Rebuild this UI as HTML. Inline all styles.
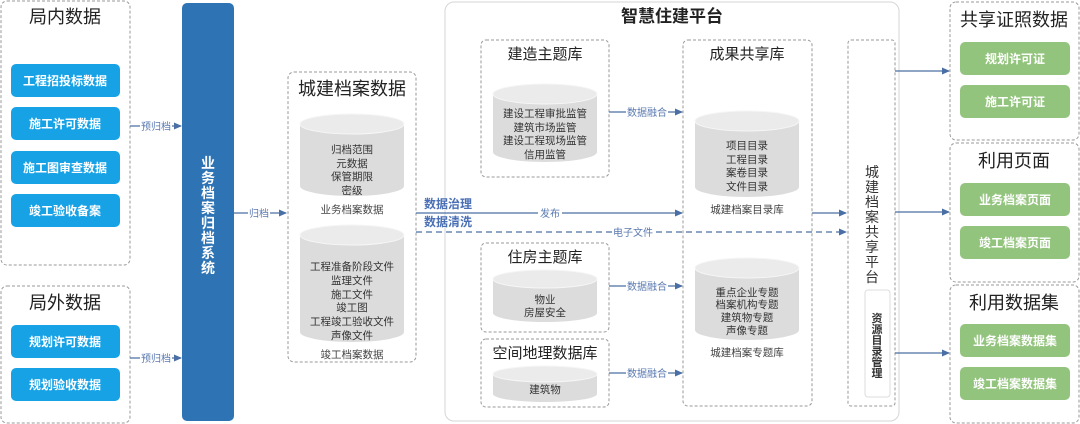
<!DOCTYPE html>
<html><head><meta charset="utf-8"><style>
html,body{margin:0;padding:0;background:#fff;}
svg{display:block;}
text{font-family:"Liberation Sans","Noto Sans CJK SC",sans-serif;}
</style></head><body>
<svg width="1080" height="424" viewBox="0 0 1080 424" xmlns="http://www.w3.org/2000/svg">
<defs>
<marker id="ar" markerWidth="8" markerHeight="8" refX="7" refY="4" orient="auto" markerUnits="userSpaceOnUse"><path d="M0,0.5 L8,4 L0,7.5 z" fill="#4a6fa5"/></marker>
<g id="cyl"></g>
</defs>
<style>
.dash{fill:#fff;stroke:#9a9a9a;stroke-width:1;stroke-dasharray:3,2;}
.ttl{font-size:18px;fill:#222;text-anchor:middle;}
.ttl2{font-size:15px;fill:#222;text-anchor:middle;}
.bt{font-size:12px;fill:#fff;text-anchor:middle;font-weight:bold;}
.ct{font-size:10.5px;fill:#333;text-anchor:middle;}
.lb{font-size:10.5px;fill:#444;text-anchor:middle;}
.al{font-size:10px;fill:#5a79b0;text-anchor:middle;}
.ln{stroke:#4a6fa5;stroke-width:1.2;fill:none;}
.cb{fill:#dcdcdc;}
.ctop{fill:#ebebeb;stroke:#f6f6f6;stroke-width:1;}
</style>

<!-- 局内数据 -->
<rect x="1" y="1" width="129" height="264" rx="6" class="dash"/>
<text x="65" y="23" class="ttl">局内数据</text>
<rect x="11" y="64" width="109" height="33" rx="5" fill="#17a2e6"/><text x="65" y="85" class="bt">工程招投标数据</text>
<rect x="11" y="107" width="109" height="33" rx="5" fill="#17a2e6"/><text x="65" y="128" class="bt">施工许可数据</text>
<rect x="11" y="151" width="109" height="33" rx="5" fill="#17a2e6"/><text x="65" y="172" class="bt">施工图审查数据</text>
<rect x="11" y="194" width="109" height="33" rx="5" fill="#17a2e6"/><text x="65" y="215" class="bt">竣工验收备案</text>

<!-- 局外数据 -->
<rect x="1" y="286" width="129" height="137" rx="6" class="dash"/>
<text x="65" y="309" class="ttl">局外数据</text>
<rect x="11" y="325" width="109" height="33" rx="5" fill="#17a2e6"/><text x="65" y="346" class="bt">规划许可数据</text>
<rect x="11" y="368" width="109" height="33" rx="5" fill="#17a2e6"/><text x="65" y="389" class="bt">规划验收数据</text>

<!-- arrows 预归档 -->
<line x1="130" y1="126" x2="181" y2="126" class="ln" marker-end="url(#ar)"/>
<rect x="140" y="120" width="32" height="12" fill="#fff"/><text x="156" y="130" class="al">预归档</text>
<line x1="130" y1="358" x2="181" y2="358" class="ln" marker-end="url(#ar)"/>
<rect x="140" y="352" width="32" height="12" fill="#fff"/><text x="156" y="362" class="al">预归档</text>

<!-- blue bar -->
<rect x="182" y="3" width="52" height="418" rx="5" fill="#2e74b5"/>
<g font-size="14" font-weight="bold" fill="#fff" text-anchor="middle">
<text x="208" y="168">业</text><text x="208" y="183">务</text><text x="208" y="198">档</text><text x="208" y="213">案</text><text x="208" y="228">归</text><text x="208" y="243">档</text><text x="208" y="258">系</text><text x="208" y="273">统</text>
</g>

<line x1="234" y1="213" x2="286" y2="213" class="ln" marker-end="url(#ar)"/>
<rect x="248" y="207" width="22" height="12" fill="#fff"/><text x="259" y="217" class="al">归档</text>

<!-- 城建档案数据 -->
<rect x="288" y="72" width="128" height="290" rx="6" class="dash"/>
<text x="352" y="95" class="ttl">城建档案数据</text>
<path d="M300,124 L300,186 A52,10 0 0 0 404,186 L404,124 z" class="cb"/>
<ellipse cx="352" cy="124" rx="52" ry="10" class="ctop"/>
<text x="352" y="153" class="ct">归档范围</text><text x="352" y="167" class="ct">元数据</text><text x="352" y="180" class="ct">保管期限</text><text x="352" y="194" class="ct">密级</text>
<text x="352" y="213" class="lb">业务档案数据</text>
<path d="M300,235 L300,332 A52,10 0 0 0 404,332 L404,235 z" class="cb"/>
<ellipse cx="352" cy="235" rx="52" ry="10" class="ctop"/>
<text x="352" y="270" class="ct">工程准备阶段文件</text><text x="352" y="284" class="ct">监理文件</text><text x="352" y="298" class="ct">施工文件</text><text x="352" y="311" class="ct">竣工图</text><text x="352" y="325" class="ct">工程竣工验收文件</text><text x="352" y="339" class="ct">声像文件</text>
<text x="352" y="358" class="lb">竣工档案数据</text>

<!-- platform -->
<rect x="445" y="2" width="454" height="419" rx="9" fill="none" stroke="#d6d6d6" stroke-width="1"/>
<text x="672" y="22" font-size="17" font-weight="bold" fill="#222" text-anchor="middle">智慧住建平台</text>

<!-- middle lines -->
<text x="448" y="208" font-size="12" font-weight="bold" fill="#4a6fb5" text-anchor="middle">数据治理</text>
<text x="448" y="226" font-size="12" font-weight="bold" fill="#4a6fb5" text-anchor="middle">数据清洗</text>
<line x1="416" y1="213" x2="682" y2="213" class="ln" marker-end="url(#ar)"/>
<rect x="538" y="207" width="24" height="12" fill="#fff"/><text x="550" y="217" class="al">发布</text>
<line x1="416" y1="232" x2="846" y2="232" class="ln" stroke-dasharray="6,4" marker-end="url(#ar)"/>
<rect x="612" y="226" width="42" height="12" fill="#fff"/><text x="633" y="236" class="al">电子文件</text>
<line x1="812" y1="213" x2="846" y2="213" class="ln" marker-end="url(#ar)"/>

<!-- 建造主题库 -->
<rect x="481" y="40" width="128" height="137" rx="5" class="dash"/>
<text x="545" y="59" class="ttl2">建造主题库</text>
<path d="M493,94 L493,152 A52,10 0 0 0 597,152 L597,94 z" class="cb"/>
<ellipse cx="545" cy="94" rx="52" ry="10" class="ctop"/>
<text x="545" y="117" class="ct">建设工程审批监管</text><text x="545" y="131" class="ct">建筑市场监管</text><text x="545" y="144" class="ct">建设工程现场监管</text><text x="545" y="158" class="ct">信用监管</text>

<!-- 住房主题库 -->
<rect x="481" y="243" width="128" height="89" rx="5" class="dash"/>
<text x="545" y="262" class="ttl2">住房主题库</text>
<path d="M493,279 L493,313 A52,9 0 0 0 597,313 L597,279 z" class="cb"/>
<ellipse cx="545" cy="279" rx="52" ry="9" class="ctop"/>
<text x="545" y="303" class="ct">物业</text><text x="545" y="316" class="ct">房屋安全</text>

<!-- 空间地理数据库 -->
<rect x="481" y="339" width="128" height="68" rx="5" class="dash"/>
<text x="545" y="358" class="ttl2">空间地理数据库</text>
<path d="M493,374 L493,394 A52,8 0 0 0 597,394 L597,374 z" class="cb"/>
<ellipse cx="545" cy="374" rx="52" ry="8" class="ctop"/>
<text x="545" y="393" class="ct">建筑物</text>

<!-- 数据融合 -->
<line x1="609" y1="112" x2="682" y2="112" class="ln" marker-end="url(#ar)"/>
<rect x="626" y="106" width="42" height="12" fill="#fff"/><text x="647" y="116" class="al">数据融合</text>
<line x1="609" y1="286" x2="682" y2="286" class="ln" marker-end="url(#ar)"/>
<rect x="626" y="280" width="42" height="12" fill="#fff"/><text x="647" y="290" class="al">数据融合</text>
<line x1="609" y1="373" x2="682" y2="373" class="ln" marker-end="url(#ar)"/>
<rect x="626" y="367" width="42" height="12" fill="#fff"/><text x="647" y="377" class="al">数据融合</text>

<!-- 成果共享库 -->
<rect x="683" y="40" width="129" height="366" rx="5" fill="none" stroke="#9a9a9a" stroke-dasharray="3,2"/>
<text x="747" y="59" class="ttl2">成果共享库</text>
<path d="M695,121 L695,187 A52,10 0 0 0 799,187 L799,121 z" class="cb"/>
<ellipse cx="747" cy="121" rx="52" ry="10" class="ctop"/>
<text x="747" y="149" class="ct">项目目录</text><text x="747" y="163" class="ct">工程目录</text><text x="747" y="176" class="ct">案卷目录</text><text x="747" y="190" class="ct">文件目录</text>
<text x="747" y="213" class="lb">城建档案目录库</text>
<path d="M695,268 L695,330 A52,10 0 0 0 799,330 L799,268 z" class="cb"/>
<ellipse cx="747" cy="268" rx="52" ry="10" class="ctop"/>
<text x="747" y="296" class="ct">重点企业专题</text><text x="747" y="308" class="ct">档案机构专题</text><text x="747" y="321" class="ct">建筑物专题</text><text x="747" y="334" class="ct">声像专题</text>
<text x="747" y="356" class="lb">城建档案专题库</text>

<!-- 城建档案共享平台 -->
<rect x="848" y="40" width="47" height="366" rx="3" class="dash"/>
<g font-size="14" fill="#333" text-anchor="middle">
<text x="872" y="177">城</text><text x="872" y="192">建</text><text x="872" y="207">档</text><text x="872" y="222">案</text><text x="872" y="237">共</text><text x="872" y="252">享</text><text x="872" y="267">平</text><text x="872" y="282">台</text>
</g>
<rect x="865" y="290" width="25" height="107" rx="3" fill="#fff" stroke="#ddd"/>
<g font-size="11" font-weight="bold" fill="#333" text-anchor="middle">
<text x="877" y="322">资</text><text x="877" y="333">源</text><text x="877" y="344">目</text><text x="877" y="355">录</text><text x="877" y="366">管</text><text x="877" y="377">理</text>
</g>

<!-- right arrows -->
<line x1="895" y1="71" x2="949" y2="71" class="ln" marker-end="url(#ar)"/>
<line x1="895" y1="212" x2="949" y2="212" class="ln" marker-end="url(#ar)"/>
<line x1="895" y1="353" x2="949" y2="353" class="ln" marker-end="url(#ar)"/>

<!-- right panels -->
<rect x="950" y="2" width="129" height="138" rx="6" class="dash"/>
<text x="1014" y="26" class="ttl">共享证照数据</text>
<rect x="960" y="42" width="110" height="33" rx="5" fill="#93c47d"/><text x="1015" y="63" class="bt">规划许可证</text>
<rect x="960" y="85" width="110" height="33" rx="5" fill="#93c47d"/><text x="1015" y="106" class="bt">施工许可证</text>

<rect x="950" y="143" width="129" height="139" rx="6" class="dash"/>
<text x="1014" y="167" class="ttl">利用页面</text>
<rect x="960" y="183" width="110" height="33" rx="5" fill="#93c47d"/><text x="1015" y="204" class="bt">业务档案页面</text>
<rect x="960" y="226" width="110" height="33" rx="5" fill="#93c47d"/><text x="1015" y="247" class="bt">竣工档案页面</text>

<rect x="950" y="285" width="129" height="138" rx="6" class="dash"/>
<text x="1014" y="309" class="ttl">利用数据集</text>
<rect x="960" y="324" width="110" height="33" rx="5" fill="#93c47d"/><text x="1015" y="345" class="bt">业务档案数据集</text>
<rect x="960" y="367" width="110" height="33" rx="5" fill="#93c47d"/><text x="1015" y="388" class="bt">竣工档案数据集</text>
</svg>
</body></html>
